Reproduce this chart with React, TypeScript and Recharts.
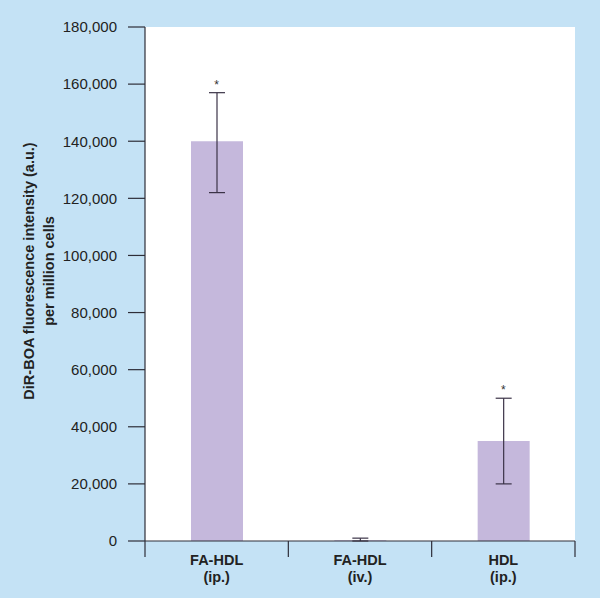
import {
  ComposedChart,
  Bar,
  Line,
  XAxis,
  YAxis,
  ErrorBar,
  CartesianGrid,
} from 'recharts'

document.body.style.margin = '0'

const categories = ['FA-HDL|(ip.)', 'FA-HDL|(iv.)', 'HDL|(ip.)']
const means = [140000, 300, 35000]
const lows = [122000, 0, 20000]
const highs = [157000, 1000, 50000]
const starred = [true, false, true]
const yTicks = [0, 20000, 40000, 60000, 80000, 100000, 120000, 140000, 160000, 180000]

const W = 600
const H = 598
const PLOT = { top: 27, right: 25, bottom: 57, left: 145 }
const BAND = (W - PLOT.left - PLOT.right) / categories.length
const AXIS = '#2e2e38'
const FONT = '"Liberation Sans", Arial, Helvetica, sans-serif'

const data = categories.map((c, i) => ({
  name: c,
  value: means[i],
  err: [means[i] - lows[i], highs[i] - means[i]],
  star: starred[i] ? highs[i] : null,
}))

function XTick(props: any) {
  const { x, payload, index } = props
  const y = H - PLOT.bottom
  const [l1, l2] = String(payload.value).split('|')
  return (
    <g>
      <line x1={x - BAND / 2} y1={y} x2={x - BAND / 2} y2={y + 16} stroke={AXIS} strokeWidth={1.2} />
      {index === categories.length - 1 && (
        <line x1={x + BAND / 2} y1={y} x2={x + BAND / 2} y2={y + 16} stroke={AXIS} strokeWidth={1.2} />
      )}
      <text x={x} y={y + 24} textAnchor="middle" fontSize={14.5} fontWeight="bold" fill="#222" fontFamily={FONT}>
        {l1}
      </text>
      <text x={x} y={y + 41} textAnchor="middle" fontSize={14.5} fontWeight="bold" fill="#222" fontFamily={FONT}>
        {l2}
      </text>
    </g>
  )
}

function Star(props: any) {
  const { cx, cy, payload } = props
  if (payload.star == null) return <g />
  return (
    <text x={cx} y={cy - 4} textAnchor="middle" fontSize={12} fill="#333" fontFamily={FONT}>
      *
    </text>
  )
}

function YLabel() {
  const cy = 271
  return (
    <g fontFamily={FONT} fontWeight="bold" fontSize={14.5} fill="#222">
      <text x={34} y={cy} textAnchor="middle" transform={`rotate(-90 34 ${cy})`}>
        DiR-BOA fluorescence intensity (a.u.)
      </text>
      <text x={54} y={cy} textAnchor="middle" transform={`rotate(-90 54 ${cy})`}>
        per million cells
      </text>
    </g>
  )
}

export default function App() {
  return (
    <div style={{ width: W, height: H, background: '#c4e2f5' }}>
      <ComposedChart
        width={W}
        height={H}
        data={data}
        margin={{ top: PLOT.top, right: PLOT.right, bottom: 0, left: 0 }}
      >
        <CartesianGrid fill="#ffffff" horizontal={false} vertical={false} stroke="none" />
        <XAxis
          dataKey="name"
          height={PLOT.bottom}
          axisLine={{ stroke: AXIS, strokeWidth: 1.2 }}
          tickLine={false}
          tickSize={0}
          tickMargin={0}
          tick={<XTick />}
          interval={0}
        />
        <YAxis
          domain={[0, 180000]}
          ticks={yTicks}
          interval={0}
          width={PLOT.left}
          axisLine={{ stroke: AXIS, strokeWidth: 1.2 }}
          tickLine={{ stroke: AXIS, strokeWidth: 1.2 }}
          tickSize={17}
          tickMargin={11}
          tick={{ fill: '#222', fontSize: 15, fontFamily: FONT }}
          tickFormatter={(v: number) => v.toLocaleString('en-US')}
          label={{ content: <YLabel /> }}
        />
        <Bar dataKey="value" fill="#c5b8dc" barSize={52} isAnimationActive={false}>
          <ErrorBar dataKey="err" width={8} stroke="#3b3347" strokeWidth={1.2} />
        </Bar>
        <Line
          dataKey="star"
          stroke="none"
          dot={<Star />}
          activeDot={false}
          isAnimationActive={false}
          connectNulls={false}
        />
      </ComposedChart>
    </div>
  )
}
